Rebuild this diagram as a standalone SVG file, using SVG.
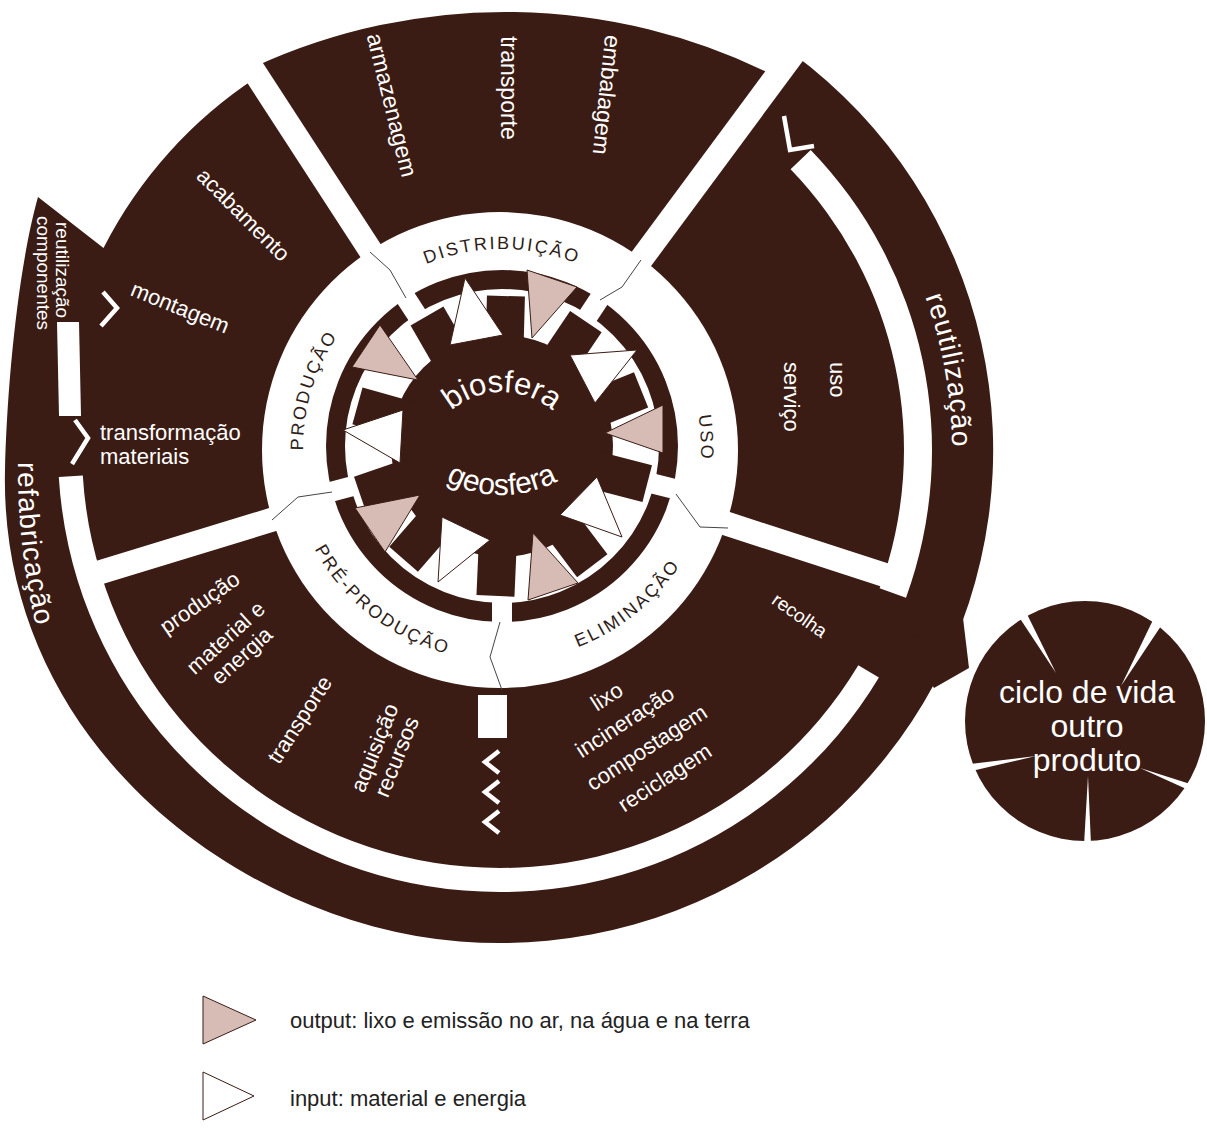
<svg xmlns="http://www.w3.org/2000/svg" width="1207" height="1130" viewBox="0 0 1207 1130">
<style>
.dk{fill:#3b1c15}
.wt{fill:#fff}
.pk{fill:#d6bcb4;stroke:#3b1c15;stroke-width:1}
.wtri{fill:#fff;stroke:#3b1c15;stroke-width:1}
.lbl{font-family:"Liberation Sans",Arial,sans-serif;fill:#fff;font-size:22px}
.rl{font-family:"Liberation Sans",Arial,sans-serif;fill:#2e1d18;font-size:18px;letter-spacing:2.3px}
.div{fill:none;stroke:#444;stroke-width:1}
.chev{fill:none;stroke:#fff;stroke-width:4.5;stroke-linejoin:miter}
.lg{font-family:"Liberation Sans",Arial,sans-serif;fill:#222;font-size:22px}
</style>
<defs>
<path id="cw" d="M 502,647 A 199 199 0 1 1 502,249 A 199 199 0 1 1 502,647"/>
<path id="ccw" d="M 502,235 A 213 213 0 1 0 502,661 A 213 213 0 1 0 502,235"/>
<path id="cwB" d="M 500,902 A 452 452 0 1 1 500,-2 A 452 452 0 1 1 500,902"/>
<path id="ccwB" d="M 700,-212 A 682 682 0 1 0 700,1152 A 682 682 0 1 0 700,-212"/>
<path id="bioP" d="M 424,470 A 78 78 0 0 1 580,470"/>
<path id="geoP" d="M 384,377 A 118 118 0 0 0 620,377"/>
</defs>

<g id="outer-wheel">
<path class="dk" d="M 776.2,76.7 L 793.3,53.7 A 493 493 0 0 1 331.4,913.3 C 143.5,844.9 0,680 5,470 C 7,386 18,268 38,197 L 103.5,248 A 445 445 0 0 1 257.6,76.8 L 251.9,68 A 600 600 0 0 1 776.2,76.7 Z"/>
<circle class="wt" cx="500" cy="450" r="238"/>
<g class="wt">
<rect x="488" y="-60" width="24" height="285" transform="rotate(327 500 450)"/>
<rect x="488" y="-60" width="24" height="285" transform="rotate(36.5 500 450)"/>
<rect x="488" y="30" width="24" height="195" transform="rotate(108 500 450)"/>
<rect x="488" y="25" width="24" height="200" transform="rotate(253 500 450)"/>
<path d="M 810.7,149.9 A 432 432 0 0 1 906,597.7 L 879.6,588.2 A 404 404 0 0 0 790.6,169.3 Z"/>
<path d="M 878.9,677.6 A 442 442 0 0 1 58.8,477 L 82.8,475.5 A 418 418 0 0 0 858.3,665.3 Z"/>
<polygon points="57,322 79,322 81,416 59,416"/>
<rect x="478" y="695" width="29" height="43"/>
</g>
<polygon class="dk" points="963,618 969,668 934,688 905,640"/>
</g>

<g id="chevrons">
<polyline class="chev" points="499,751 485,762 499,773"/>
<polyline class="chev" points="499,781 485,792 499,803"/>
<polyline class="chev" points="499,811 485,822 499,833"/>
<polyline class="chev" points="784,116 790,150 814,146"/>
<polyline class="chev" points="103,292 117,308 101,326"/>
<polyline class="chev" points="75,420 88,438 72,464"/>
</g>

<g id="core">
<circle cx="502" cy="446" r="166.5" fill="none" stroke="#3b1c15" stroke-width="19"/>
<g class="wt">
<rect x="492" y="262" width="20" height="36" transform="rotate(327 502 446)"/>
<rect x="492" y="262" width="20" height="36" transform="rotate(33.5 502 446)"/>
<rect x="492" y="262" width="20" height="36" transform="rotate(104 502 446)"/>
<rect x="492" y="262" width="20" height="36" transform="rotate(180 502 446)"/>
<rect x="492" y="262" width="20" height="36" transform="rotate(255 502 446)"/>
</g>
<g id="gear" class="dk">
<circle cx="502" cy="446" r="111"/>
<rect x="483" y="296" width="38" height="60" transform="rotate(1.5 502 446)"/>
<rect x="483" y="296" width="38" height="60" transform="rotate(34 502 446)"/>
<rect x="483" y="296" width="38" height="60" transform="rotate(68 502 446)"/>
<rect x="483" y="296" width="38" height="60" transform="rotate(104.5 502 446)"/>
<rect x="483" y="296" width="38" height="60" transform="rotate(143 502 446)"/>
<rect x="483" y="296" width="38" height="60" transform="rotate(182.5 502 446)"/>
<rect x="483" y="296" width="38" height="60" transform="rotate(221 502 446)"/>
<rect x="483" y="296" width="38" height="60" transform="rotate(251 502 446)"/>
<rect x="483" y="296" width="38" height="60" transform="rotate(285.5 502 446)"/>
<rect x="483" y="296" width="38" height="60" transform="rotate(330 502 446)"/>
</g>
<g id="triangles">
<polygon class="wtri" points="465,278 450,345 503,335"/>
<polygon class="pk" points="527,270 577,287 532,338"/>
<polygon class="wtri" points="637,350 570,355 595,403"/>
<polygon class="pk" points="663,405 663,453 605,433"/>
<polygon class="wtri" points="622,537 560,515 597,477"/>
<polygon class="pk" points="528,600 578,583 533,533"/>
<polygon class="wtri" points="438,582 442,517 490,540"/>
<polygon class="pk" points="355,508 385,552 420,495"/>
<polygon class="wtri" points="343,430 403,410 400,463"/>
<polygon class="pk" points="380,325 352,367 418,380"/>
</g>
<text class="lbl" style="font-size:31px"><textPath href="#bioP" startOffset="50%" text-anchor="middle">biosfera</textPath></text>
<text class="lbl" style="font-size:30px"><textPath href="#geoP" startOffset="50%" text-anchor="middle">geosfera</textPath></text>
</g>

<g id="dividers">
<polyline class="div" points="406,298 390,270 370,252"/>
<polyline class="div" points="600,300 622,287 641,260"/>
<polyline class="div" points="676,494 700,527 728,528"/>
<polyline class="div" points="500,622 490,657 502,690"/>
<polyline class="div" points="332,492 298,497 272,520"/>
</g>

<g id="stage-labels">
<text class="rl"><textPath href="#cw" startOffset="29.7%" text-anchor="middle">PRODUÇÃO</textPath></text>
<text class="rl"><textPath href="#cw" startOffset="50%" text-anchor="middle">DISTRIBUIÇÃO</textPath></text>
<text class="rl"><textPath href="#cw" startOffset="74.2%" text-anchor="middle">USO</textPath></text>
<text class="rl"><textPath href="#ccw" startOffset="39.4%" text-anchor="middle">PRÉ-PRODUÇÃO</textPath></text>
<text class="rl"><textPath href="#ccw" startOffset="60.8%" text-anchor="middle">ELIMINAÇÃO</textPath></text>
</g>

<g id="sector-text" class="lbl">
<text transform="translate(392,105) rotate(76)" text-anchor="middle" y="8" style="font-size:23px">armazenagem</text>
<text transform="translate(509,88) rotate(90)" text-anchor="middle" y="8" style="font-size:23px">transporte</text>
<text transform="translate(607,95) rotate(96)" text-anchor="middle" y="8" style="font-size:23px">embalagem</text>
<text transform="translate(243,215) rotate(45)" text-anchor="middle" y="7">acabamento</text>
<text transform="translate(180,308) rotate(22)" text-anchor="middle" y="7">montagem</text>
<text x="100" y="440">transformação</text>
<text x="100" y="464">materiais</text>
<text transform="translate(812,362) rotate(90)" y="-18">uso</text>
<text transform="translate(812,362) rotate(90)" y="28">serviço</text>
<text transform="translate(800,615) rotate(35)" text-anchor="middle" y="7" style="font-size:19px">recolha</text>
<text transform="translate(607,697) rotate(-33)" text-anchor="middle" y="7">lixo</text>
<text transform="translate(625,722) rotate(-33)" text-anchor="middle" y="7">incineração</text>
<text transform="translate(647,748) rotate(-33)" text-anchor="middle" y="7">compostagem</text>
<text transform="translate(665,778) rotate(-33)" text-anchor="middle" y="7">reciclagem</text>
<text transform="translate(200,603) rotate(-35)" text-anchor="middle" y="7">produção</text>
<text transform="translate(226,638) rotate(-42)" text-anchor="middle" y="7">material e</text>
<text transform="translate(242,656) rotate(-42)" text-anchor="middle" y="7">energia</text>
<text transform="translate(300,720) rotate(-57)" text-anchor="middle" y="7">transporte</text>
<text transform="translate(375,748) rotate(-68)" text-anchor="middle" y="7">aquisição</text>
<text transform="translate(397,757) rotate(-68)" text-anchor="middle" y="7">recursos</text>
<text transform="translate(49,222) rotate(90)" y="-7" style="font-size:19px">reutilização</text>
<text transform="translate(49,216) rotate(90)" y="12" style="font-size:19px">componentes</text>
<text style="font-size:28px;letter-spacing:1px"><textPath href="#cwB" startOffset="72.2%" text-anchor="middle">reutilização</textPath></text>
<text style="font-size:28px;letter-spacing:1px"><textPath href="#ccwB" startOffset="26.75%" text-anchor="middle">refabricação</textPath></text>
</g>

<g id="ciclo-outro-produto">
<circle class="dk" cx="1085" cy="721" r="120"/>
<g class="wt">
<polygon points="1015,611 1023,606 1056,673"/>
<polygon points="1153,620 1161,626 1121,686"/>
<polygon points="962,765 963,773 1036,756"/>
<polygon points="1206,789 1204,797 1140,768"/>
<polygon points="1084,845 1091,845 1088,776"/>
</g>
<text class="lbl" style="font-size:32px" text-anchor="middle" x="1087" y="703">ciclo de vida</text>
<text class="lbl" style="font-size:32px" text-anchor="middle" x="1087" y="737">outro</text>
<text class="lbl" style="font-size:32px" text-anchor="middle" x="1087" y="771">produto</text>
</g>

<g id="legend">
<polygon class="pk" points="203,996 203,1044 256,1020"/>
<text class="lg" x="290" y="1028">output: lixo e emissão no ar, na água e na terra</text>
<polygon class="wtri" points="203,1072 203,1120 254,1096"/>
<text class="lg" x="290" y="1106">input: material e energia</text>
</g>
</svg>
